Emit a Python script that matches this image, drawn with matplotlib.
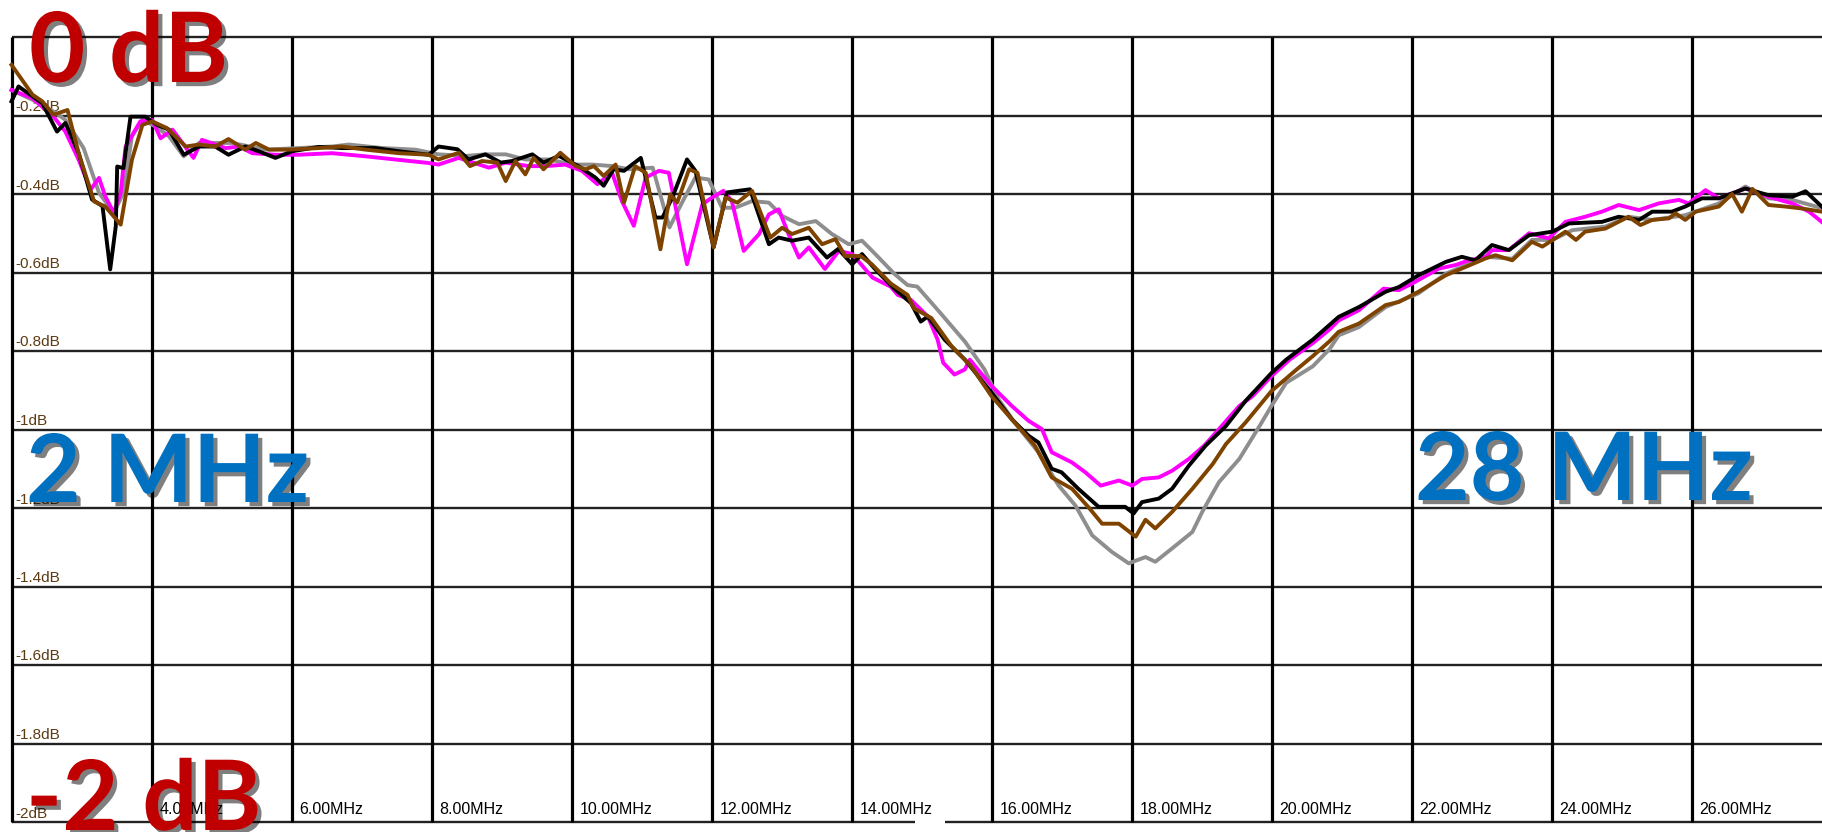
import matplotlib
matplotlib.use("Agg")
import matplotlib.pyplot as plt
import matplotlib.patheffects as pe
from matplotlib.transforms import offset_copy


# values (MHz, dB)
black_mhz = [2.00, 2.10, 2.44, 2.65, 2.77, 2.96, 3.15, 3.30, 3.41, 3.49, 3.51, 3.60, 3.70, 3.91,
             4.08, 4.25, 4.46, 4.68, 4.91, 5.10, 5.34, 5.53, 5.77, 6.01, 6.39, 6.72, 7.20, 7.53,
             7.96, 8.10, 8.37, 8.53, 8.77, 8.99, 9.15, 9.44, 9.60, 9.82, 10.10, 10.34, 10.46,
             10.60, 10.75, 10.99, 11.20, 11.30, 11.44, 11.65, 11.77, 12.03, 12.22, 12.55, 12.82,
             12.96, 13.15, 13.39, 13.65, 13.81, 14.01, 14.15, 14.34, 14.61, 14.85, 14.99, 15.09,
             15.33, 15.62, 16.00, 16.29, 16.53, 16.67, 16.86, 17.00, 17.24, 17.53, 17.91, 18.03,
             18.15, 18.39, 18.58, 18.82, 19.06, 19.35, 19.63, 20.00, 20.21, 20.59, 20.96, 21.25,
             21.63, 21.82, 22.10, 22.49, 22.72, 22.91, 23.15, 23.39, 23.68, 24.01, 24.25, 24.72,
             24.96, 25.25, 25.44, 25.72, 25.91, 26.15, 26.39, 26.77, 27.10, 27.44, 27.63, 27.86]
black_db = [-0.164, -0.126, -0.169, -0.241, -0.219, -0.296, -0.414, -0.431, -0.592, -0.482,
            -0.330, -0.334, -0.203, -0.203, -0.224, -0.236, -0.300, -0.279, -0.279, -0.300,
            -0.279, -0.291, -0.308, -0.291, -0.280, -0.283, -0.283, -0.291, -0.300, -0.279,
            -0.286, -0.312, -0.299, -0.320, -0.316, -0.299, -0.320, -0.303, -0.329, -0.358,
            -0.379, -0.337, -0.341, -0.308, -0.460, -0.460, -0.409, -0.312, -0.341, -0.536,
            -0.396, -0.388, -0.528, -0.511, -0.519, -0.511, -0.562, -0.540, -0.579, -0.553,
            -0.592, -0.641, -0.678, -0.725, -0.712, -0.771, -0.822, -0.906, -0.974, -1.016,
            -1.033, -1.100, -1.109, -1.151, -1.197, -1.197, -1.214, -1.185, -1.176, -1.151,
            -1.092, -1.041, -0.991, -0.927, -0.856, -0.822, -0.771, -0.713, -0.688, -0.649,
            -0.637, -0.607, -0.573, -0.560, -0.569, -0.530, -0.543, -0.505, -0.496, -0.475,
            -0.471, -0.458, -0.466, -0.445, -0.445, -0.432, -0.411, -0.411, -0.386, -0.403,
            -0.407, -0.393, -0.432]

gray_mhz = [2.00, 2.30, 2.60, 2.77, 3.03, 3.25, 3.46, 3.60, 3.72, 3.87, 4.06, 4.25, 4.46, 4.68,
            5.15, 5.63, 6.10, 6.58, 6.82, 7.30, 7.77, 8.10, 8.49, 8.77, 9.06, 9.34, 9.68, 10.01,
            10.30, 10.59, 10.82, 11.16, 11.40, 11.59, 11.77, 11.96, 12.15, 12.34, 12.58, 12.82,
            13.01, 13.25, 13.49, 13.72, 13.96, 14.15, 14.34, 14.61, 14.80, 14.94, 15.23, 15.62,
            15.90, 16.10, 16.33, 16.67, 16.96, 17.20, 17.44, 17.72, 17.96, 18.20, 18.34, 18.58,
            18.87, 19.01, 19.25, 19.54, 19.83, 20.00, 20.21, 20.59, 20.83, 20.96, 21.25, 21.63,
            22.10, 22.49, 23.06, 23.44, 23.72, 24.01, 24.30, 24.77, 25.10, 25.44, 25.91, 26.39,
            26.77, 27.10, 27.44, 27.86]
gray_db = [-0.135, -0.160, -0.190, -0.211, -0.283, -0.397, -0.448, -0.397, -0.253, -0.211,
           -0.228, -0.253, -0.304, -0.270, -0.270, -0.287, -0.283, -0.279, -0.274, -0.283,
           -0.287, -0.299, -0.303, -0.299, -0.299, -0.312, -0.312, -0.325, -0.325, -0.329,
           -0.337, -0.333, -0.485, -0.418, -0.358, -0.363, -0.435, -0.435, -0.418, -0.422,
           -0.456, -0.477, -0.469, -0.502, -0.528, -0.519, -0.553, -0.603, -0.632, -0.636,
           -0.695, -0.776, -0.847, -0.923, -0.982, -1.058, -1.143, -1.194, -1.270, -1.312,
           -1.341, -1.325, -1.337, -1.303, -1.261, -1.210, -1.134, -1.075, -0.991, -0.940,
           -0.881, -0.839, -0.795, -0.760, -0.739, -0.688, -0.653, -0.603, -0.560, -0.565,
           -0.517, -0.517, -0.492, -0.483, -0.458, -0.466, -0.454, -0.424, -0.381, -0.411,
           -0.415, -0.436]

magenta_mhz = [2.00, 2.30, 2.60, 2.77, 2.96, 3.13, 3.25, 3.34, 3.46, 3.56, 3.63, 3.84, 4.01,
               4.13, 4.30, 4.60, 4.72, 5.06, 5.25, 5.44, 5.77, 6.10, 6.58, 7.06, 7.53, 7.96,
               8.10, 8.39, 8.82, 9.06, 9.39, 9.63, 9.91, 10.15, 10.37, 10.58, 10.72, 10.89,
               11.06, 11.25, 11.39, 11.65, 11.87, 12.01, 12.17, 12.29, 12.46, 12.68, 12.82,
               12.96, 13.10, 13.25, 13.39, 13.62, 13.82, 14.01, 14.30, 14.56, 14.66, 14.85,
               15.09, 15.23, 15.31, 15.47, 15.62, 15.69, 16.00, 16.29, 16.53, 16.72, 16.86,
               17.15, 17.34, 17.56, 17.82, 18.01, 18.15, 18.39, 18.58, 18.82, 19.04, 19.25,
               19.54, 19.73, 20.00, 20.26, 20.59, 20.83, 20.96, 21.25, 21.60, 21.82, 22.01,
               22.39, 22.63, 22.82, 23.06, 23.15, 23.39, 23.68, 23.96, 24.20, 24.48, 24.72,
               24.96, 25.25, 25.53, 25.82, 25.96, 26.20, 26.39, 26.77, 27.10, 27.44, 27.68, 27.86]
magenta_db = [-0.135, -0.156, -0.203, -0.241, -0.313, -0.389, -0.359, -0.406, -0.448, -0.397,
              -0.279, -0.215, -0.211, -0.258, -0.236, -0.308, -0.262, -0.283, -0.279, -0.296,
              -0.300, -0.300, -0.296, -0.304, -0.313, -0.321, -0.325, -0.308, -0.333, -0.320,
              -0.329, -0.329, -0.325, -0.341, -0.375, -0.346, -0.418, -0.481, -0.358, -0.341,
              -0.346, -0.579, -0.426, -0.409, -0.392, -0.418, -0.545, -0.502, -0.452, -0.439,
              -0.502, -0.562, -0.536, -0.591, -0.545, -0.553, -0.613, -0.636, -0.657, -0.670,
              -0.712, -0.771, -0.830, -0.860, -0.847, -0.822, -0.889, -0.940, -0.978, -0.999,
              -1.058, -1.084, -1.109, -1.143, -1.130, -1.143, -1.126, -1.122, -1.105, -1.075,
              -1.041, -0.999, -0.940, -0.915, -0.864, -0.822, -0.780, -0.745, -0.722, -0.696,
              -0.641, -0.645, -0.628, -0.590, -0.581, -0.569, -0.560, -0.543, -0.543, -0.500,
              -0.513, -0.471, -0.458, -0.445, -0.428, -0.441, -0.424, -0.415, -0.424, -0.390,
              -0.411, -0.386, -0.407, -0.424, -0.445, -0.471]

brown_mhz = [2.00, 2.30, 2.44, 2.60, 2.80, 2.96, 3.18, 3.34, 3.56, 3.72, 3.87, 4.01, 4.22, 4.49,
             4.68, 4.91, 5.10, 5.34, 5.49, 5.68, 5.96, 6.39, 6.72, 7.06, 7.53, 7.96, 8.10, 8.39,
             8.55, 8.72, 8.94, 9.06, 9.20, 9.34, 9.46, 9.60, 9.84, 10.06, 10.20, 10.32, 10.46,
             10.63, 10.75, 10.91, 11.06, 11.27, 11.41, 11.51, 11.68, 11.80, 12.03, 12.20, 12.37,
             12.58, 12.84, 13.01, 13.15, 13.39, 13.58, 13.77, 13.91, 14.13, 14.29, 14.56, 14.80,
             14.89, 15.14, 15.43, 15.71, 16.00, 16.29, 16.62, 16.86, 17.15, 17.39, 17.58, 17.82,
             18.06, 18.20, 18.34, 18.58, 18.87, 19.16, 19.35, 19.63, 20.00, 20.36, 20.59, 20.83,
             20.96, 21.25, 21.63, 21.82, 22.10, 22.49, 22.77, 23.06, 23.20, 23.44, 23.72, 23.87,
             24.20, 24.35, 24.48, 24.77, 25.10, 25.27, 25.44, 25.68, 25.77, 25.91, 26.06, 26.39,
             26.58, 26.72, 26.87, 27.10, 27.34, 27.58, 27.86]
brown_db = [-0.071, -0.147, -0.164, -0.198, -0.186, -0.296, -0.419, -0.432, -0.478, -0.313,
            -0.224, -0.215, -0.232, -0.279, -0.274, -0.279, -0.260, -0.287, -0.270, -0.287,
            -0.287, -0.283, -0.279, -0.287, -0.296, -0.300, -0.312, -0.295, -0.329, -0.316,
            -0.320, -0.367, -0.316, -0.350, -0.308, -0.337, -0.295, -0.329, -0.337, -0.329,
            -0.354, -0.325, -0.422, -0.329, -0.346, -0.541, -0.401, -0.422, -0.337, -0.346,
            -0.536, -0.409, -0.422, -0.392, -0.511, -0.486, -0.502, -0.486, -0.528, -0.515,
            -0.558, -0.558, -0.579, -0.628, -0.657, -0.691, -0.716, -0.788, -0.839, -0.915,
            -0.974, -1.041, -1.122, -1.151, -1.199, -1.240, -1.240, -1.273, -1.230, -1.252,
            -1.210, -1.151, -1.088, -1.037, -0.982, -0.902, -0.847, -0.813, -0.775, -0.751,
            -0.730, -0.683, -0.675, -0.649, -0.607, -0.586, -0.564, -0.556, -0.569, -0.522,
            -0.534, -0.496, -0.517, -0.496, -0.488, -0.458, -0.479, -0.466, -0.462, -0.449,
            -0.466, -0.445, -0.432, -0.400, -0.445, -0.387, -0.428, -0.432, -0.437, -0.445]

x_ticks = [4, 6, 8, 10, 12, 14, 16, 18, 20, 22, 24, 26]
x_tick_labels = ["4.00MHz", "6.00MHz", "8.00MHz", "10.00MHz", "12.00MHz", "14.00MHz",
                 "16.00MHz", "18.00MHz", "20.00MHz", "22.00MHz", "24.00MHz", "26.00MHz"]
y_ticks = [-0.2, -0.4, -0.6, -0.8, -1.0, -1.2, -1.4, -1.6, -1.8, -2.0]
y_tick_labels = ["-0.2dB", "-0.4dB", "-0.6dB", "-0.8dB", "-1dB", "-1.2dB", "-1.4dB",
                 "-1.6dB", "-1.8dB", "-2dB"]

W, H = 1822, 832
PX_PER_MHZ = 70.0
PX_PER_DB = 392.5
small_font = ["Liberation Sans", "DejaVu Sans"]
big_font = ["Lato", "DejaVu Sans"]

fig = plt.figure(figsize=(W / 100, H / 100), dpi=100)
ax = fig.add_axes([0, 0, 1, 1])
x0 = 2 - 11.5 / PX_PER_MHZ
xmax = x0 + W / PX_PER_MHZ
ax.set_xlim(x0, xmax)
y_top = 37 / PX_PER_DB
ax.set_ylim(y_top - H / PX_PER_DB, y_top)
ax.axis("off")

# grid
ax.hlines([0] + y_ticks[:-1], 2, xmax, color="#222222", lw=1.7, zorder=1)
ax.hlines([-2, -2], [2, 15.33], [14.91, xmax], color="#222222", lw=1.7, zorder=1)
ax.vlines([2] + x_ticks, -2, 0, color="black", lw=2.3, zorder=1)

# labels inside the plot
ylab_tr = offset_copy(ax.transData, fig=fig, x=3.5, y=1.5, units="dots")
for v, s in zip(y_ticks, y_tick_labels):
    ax.text(2, v, s, transform=ylab_tr, ha="left", va="bottom", fontsize=11,
            color="#5c3a12", family=small_font, zorder=2)
xlab_tr = offset_copy(ax.transData, fig=fig, x=8, y=5, units="dots")
for v, s in zip(x_ticks, x_tick_labels):
    ax.text(v, -2, s, transform=xlab_tr, ha="left", va="bottom", fontsize=11.5,
            color="black", family=small_font, zorder=2)

# curves
ax.plot(gray_mhz, gray_db, color="#8e8e8e", lw=2.8, zorder=3)
ax.plot(magenta_mhz, magenta_db, color="#ff00ff", lw=2.8, zorder=4)
ax.plot(black_mhz, black_db, color="black", lw=2.8, zorder=5)
ax.plot(brown_mhz, brown_db, color="#7f4300", lw=2.8, zorder=6)

# big annotations
shadow = [pe.SimplePatchShadow(offset=(3, -3), shadow_rgbFace="black", alpha=0.5),
          pe.Normal()]
red = "#c00000"
blue = "#0070c0"
fig.text(29 / W, 1 - 82 / H, "0 dB", color=red, fontsize=70, fontweight="bold",
         family=big_font, va="baseline", path_effects=shadow, zorder=10)
fig.text(26 / W, 1 - 502 / H, "2 MHz", color=blue, fontsize=68, fontweight="bold",
         family=big_font, va="baseline", path_effects=shadow, zorder=10)
fig.text(1415 / W, 1 - 500 / H, "28 MHz", color=blue, fontsize=68, fontweight="bold",
         family=big_font, va="baseline", path_effects=shadow, zorder=10)
fig.text(26 / W, 1 - 830 / H, "-2 dB", color=red, fontsize=70, fontweight="bold",
         family=big_font, va="baseline", path_effects=shadow, zorder=10)

fig.savefig("out.png", dpi=100)
